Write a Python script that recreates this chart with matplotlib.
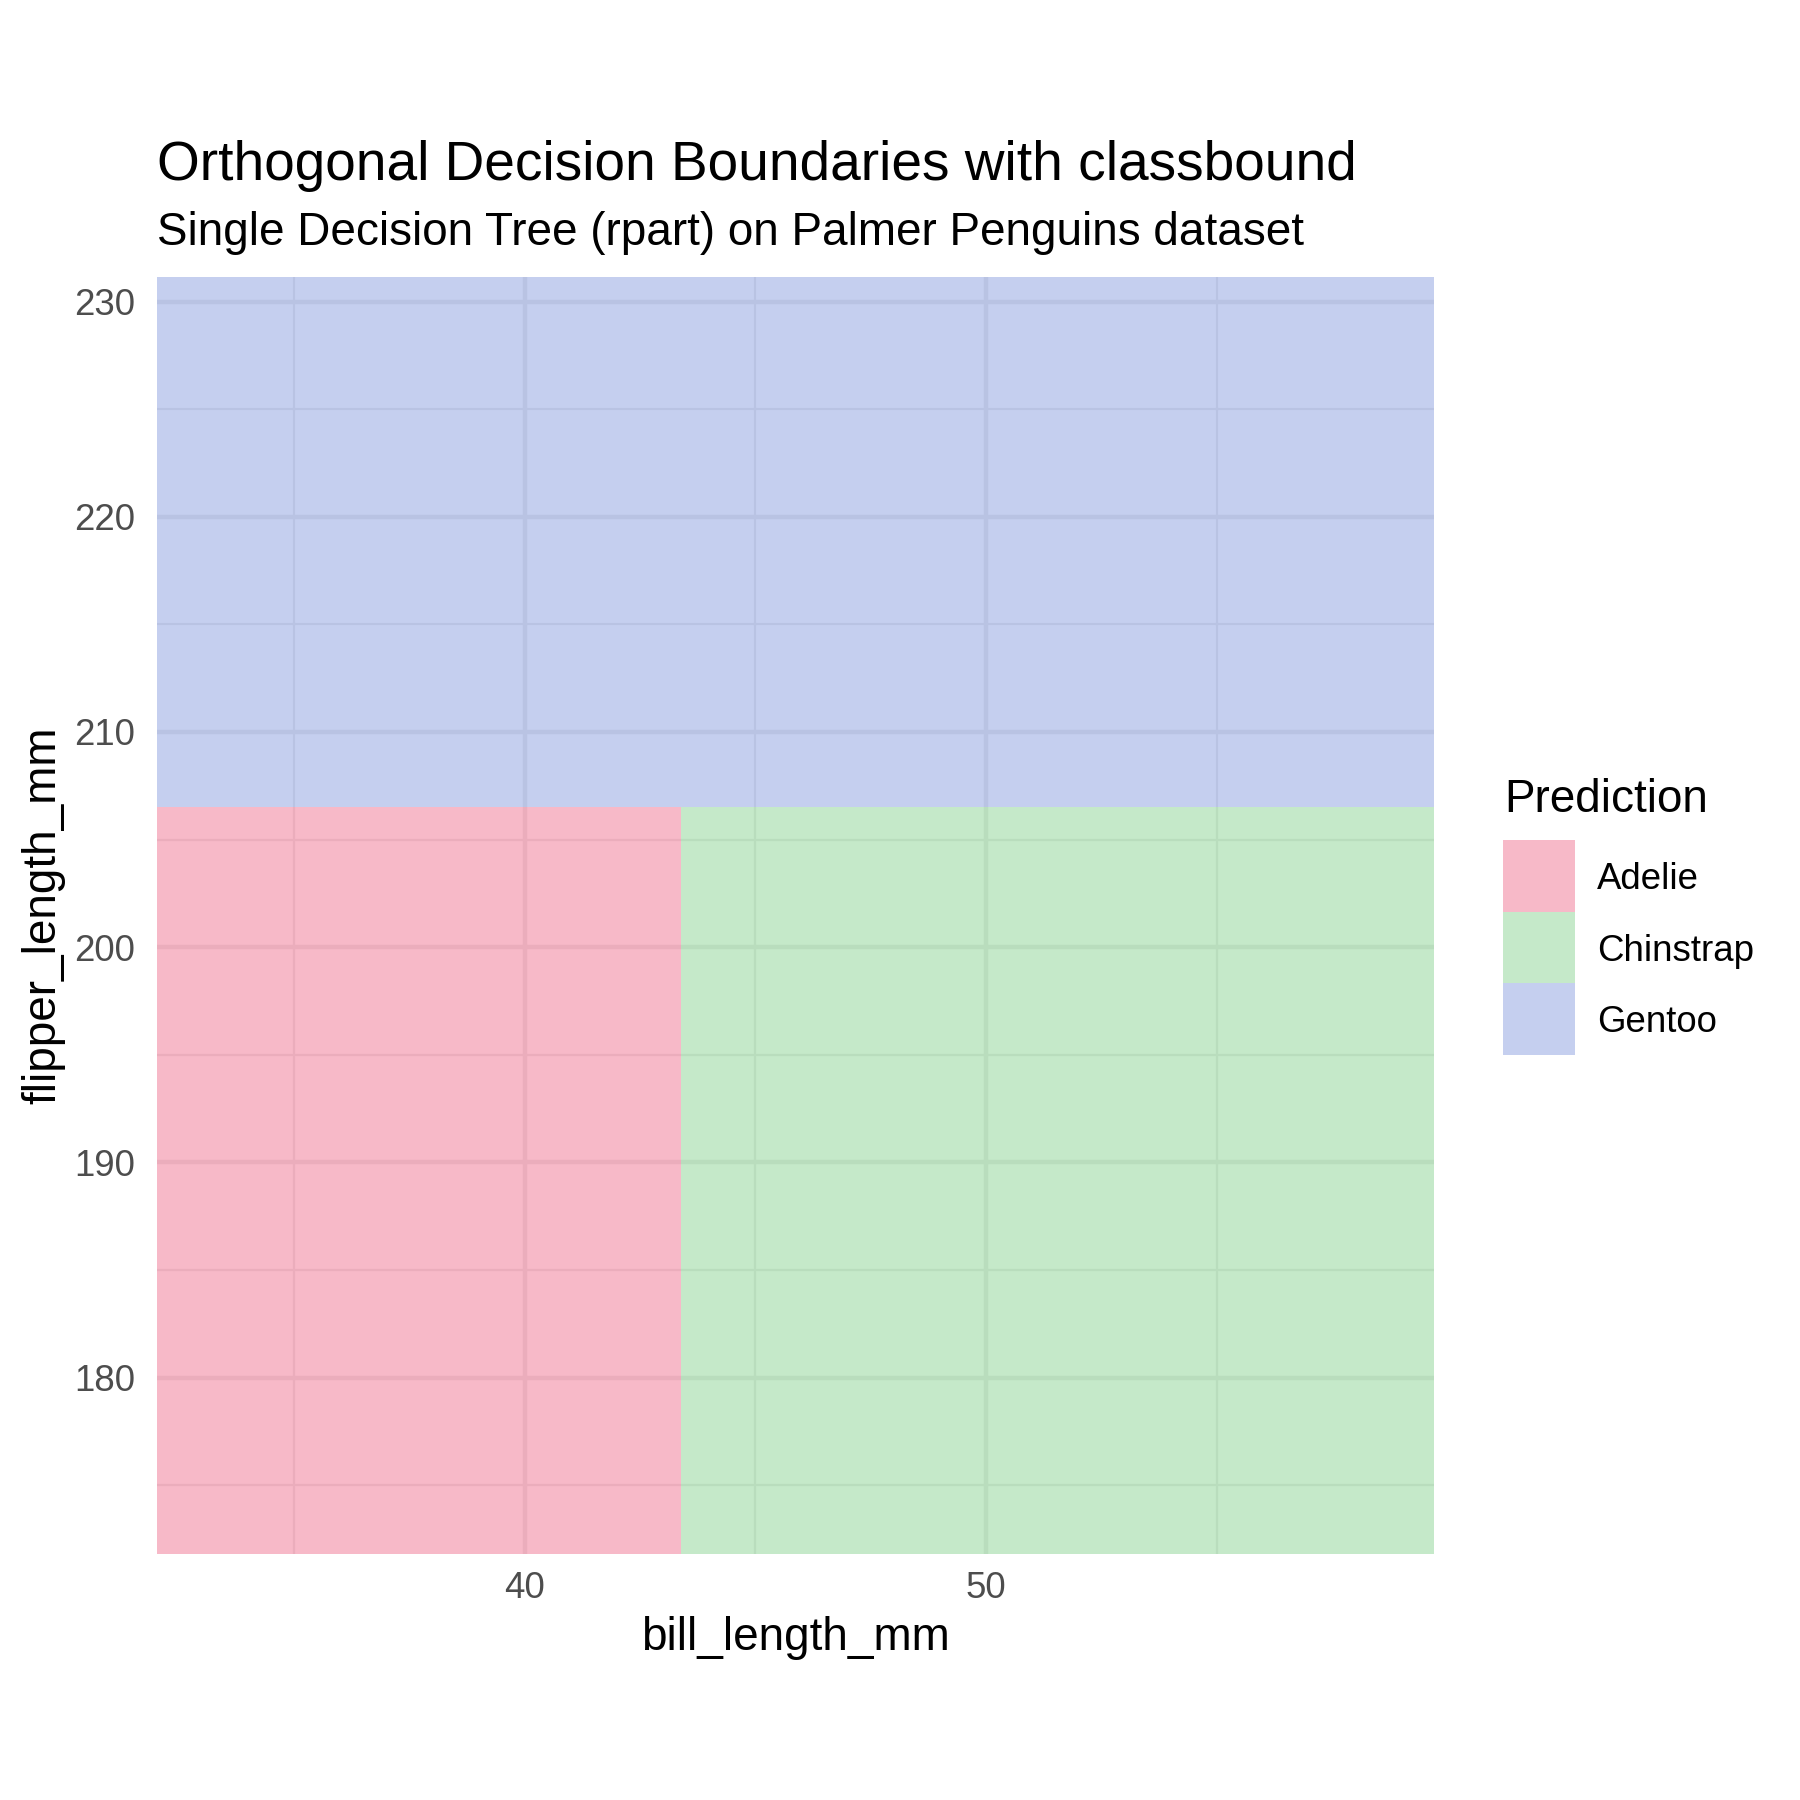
import numpy as np
import matplotlib
matplotlib.use("Agg")
import matplotlib.pyplot as plt
from matplotlib.colors import ListedColormap
from matplotlib.patches import Rectangle

plt.rcParams['font.family'] = ['Liberation Sans', 'DejaVu Sans']

# data: decision tree splits and data ranges
classes = ["Adelie", "Chinstrap", "Gentoo"]
class_colors = ["#EB5076", "#6EC878", "#7089D9"]  # drawn with alpha 0.4
bill_edges = [32.04, 43.4, 59.71]        # bill_length_mm: min, split, max
flipper_edges = [171.8, 206.5, 231.13]   # flipper_length_mm: min, split, max
# predicted class per cell (rows = flipper bins, cols = bill bins)
pred = [[0, 1],
        [2, 2]]

x_major = [40, 50]
x_minor = [35, 45, 55]
y_major = [180, 190, 200, 210, 220, 230]
y_minor = [175, 185, 195, 205, 215, 225]

W = H = 1800
fig = plt.figure(figsize=(6, 6), dpi=300)
left, right, top, bottom = 157.3, 1434, 277.3, 1554
ax = fig.add_axes([left / W, 1 - bottom / H, (right - left) / W, (bottom - top) / H])

cmap = ListedColormap(class_colors)
ax.pcolormesh(bill_edges, flipper_edges, np.array(pred), cmap=cmap, vmin=-0.5, vmax=2.5,
              alpha=0.4, edgecolors='none', zorder=1)

ax.set_xlim(bill_edges[0], bill_edges[-1])
ax.set_ylim(flipper_edges[0], flipper_edges[-1])
ax.set_xticks(x_major)
ax.set_xticks(x_minor, minor=True)
ax.set_yticks(y_major)
ax.set_yticks(y_minor, minor=True)
ax.set_axisbelow(True)
ax.grid(which='major', color='#EBEBEB', linewidth=1.07)
ax.grid(which='minor', color='#EBEBEB', linewidth=0.53)
for s in ax.spines.values():
    s.set_visible(False)
ax.tick_params(which='both', length=0)
ax.tick_params(axis='x', pad=4.2, labelsize=8.8, labelcolor='#4D4D4D')
ax.tick_params(axis='y', pad=5.4, labelsize=8.8, labelcolor='#4D4D4D')

def fx(px):
    return px / W

def fy(py):
    return 1 - py / H

fig.text(fx(157.3), fy(180), "Orthogonal Decision Boundaries with classbound",
         fontsize=13.2, ha='left', va='baseline')
fig.text(fx(157.3), fy(245), "Single Decision Tree (rpart) on Palmer Penguins dataset",
         fontsize=11, ha='left', va='baseline')
fig.text(fx((left + right) / 2), fy(1650), "bill_length_mm", fontsize=11,
         ha='center', va='baseline')
fig.text(fx(55), fy((top + bottom) / 2), "flipper_length_mm", fontsize=11,
         rotation=90, ha='center', va='baseline', rotation_mode='anchor')

# legend
fig.text(fx(1504), fy(812), "Prediction", fontsize=11, ha='left', va='baseline')
key = 71.7
for i, (name, col) in enumerate(zip(classes, class_colors)):
    ktop = 840 + i * key
    fig.add_artist(Rectangle((fx(1503), fy(ktop + key)), key / W, key / H,
                             transform=fig.transFigure, facecolor=col, alpha=0.4,
                             edgecolor='none'))
    fig.text(fx(1597), fy(ktop + key / 2 + 3.5), name, fontsize=8.8, ha='left', va='center')

fig.savefig("out.png", dpi=300, facecolor='white')
